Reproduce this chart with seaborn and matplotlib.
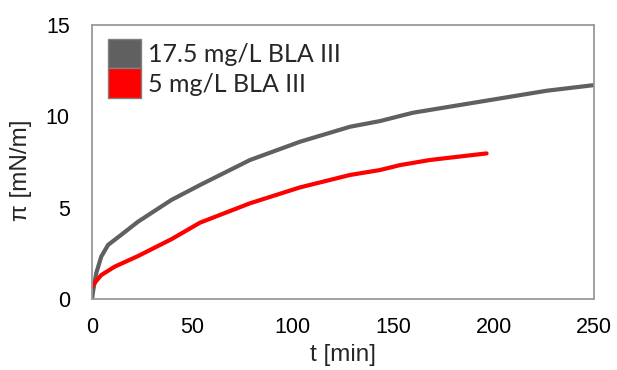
import numpy as np
import pandas as pd
import matplotlib
matplotlib.use("Agg")
import matplotlib.pyplot as plt
from matplotlib.patches import Patch
import seaborn as sns

# ---- data ----
t_high = [0, 0.5, 2.1, 4.6, 8.0, 13.8, 22.9, 39.5, 53.8, 78.7, 103.6, 128.5,
          143.4, 153.4, 160.0, 193.2, 226.4, 250]
pi_high = [0, 0.4, 1.41, 2.32, 2.96, 3.45, 4.23, 5.42, 6.24, 7.61, 8.61, 9.43,
           9.74, 10.02, 10.20, 10.80, 11.40, 11.71]

t_low = [0, 0.5, 4.6, 11.3, 22.9, 39.5, 53.8, 78.7, 103.6, 128.5, 143.4,
         153.4, 168.3, 196.5]
pi_low = [0.65, 0.77, 1.31, 1.77, 2.35, 3.27, 4.18, 5.24, 6.11, 6.79, 7.06,
          7.33, 7.61, 7.97]

series_labels = ["17.5 mg/L BLA III", "5 mg/L BLA III"]
series_colors = ["#606060", "#ff0000"]
x_ticks = [0, 50, 100, 150, 200, 250]
y_ticks = [0, 5, 10, 15]

df = pd.concat([
    pd.DataFrame({"t": t_high, "pi": pi_high, "s": series_labels[0]}),
    pd.DataFrame({"t": t_low, "pi": pi_low, "s": series_labels[1]}),
])

sns.set_theme(style="white")
plt.rcParams["font.family"] = ["Liberation Sans", "DejaVu Sans"]

fig = plt.figure(figsize=(6.17, 3.70), dpi=100)
ax = fig.add_axes([92 / 617, 1 - 299 / 370, (594 - 92) / 617, (299 - 25) / 370])

sns.lineplot(data=df, x="t", y="pi", hue="s", palette=series_colors,
             hue_order=series_labels, linewidth=3.0, ax=ax, legend=False,
             sort=False, estimator=None)

ax.set_xlim(0, 250)
ax.set_ylim(0, 15)
ax.set_xticks(x_ticks)
ax.set_yticks(y_ticks)
ax.tick_params(axis="both", direction="in", length=5, width=1, color="#888888",
               labelsize=15.5, labelcolor="black")
ax.tick_params(axis="y", pad=16)
ax.tick_params(axis="x", pad=13)
for sp in ax.spines.values():
    sp.set_color("#999999")
    sp.set_linewidth(1.3)

ax.set_xlabel("t [min]", fontsize=17.5, labelpad=4)
ax.set_ylabel("π [mN/m]", fontsize=17.5)
ax.yaxis.set_label_coords(-0.12, 0.47)

handles = [Patch(facecolor=c, edgecolor="#808080", linewidth=1) for c in series_colors]
leg = ax.legend(handles, series_labels, loc="upper left", frameon=False,
                prop={"family": "Lato", "size": 18}, handlelength=1.3,
                handleheight=1.45, handletextpad=0.3, labelspacing=0.0,
                borderaxespad=0, borderpad=0, bbox_to_anchor=(0.032, 0.95))

fig.savefig("out.png", dpi=100)
